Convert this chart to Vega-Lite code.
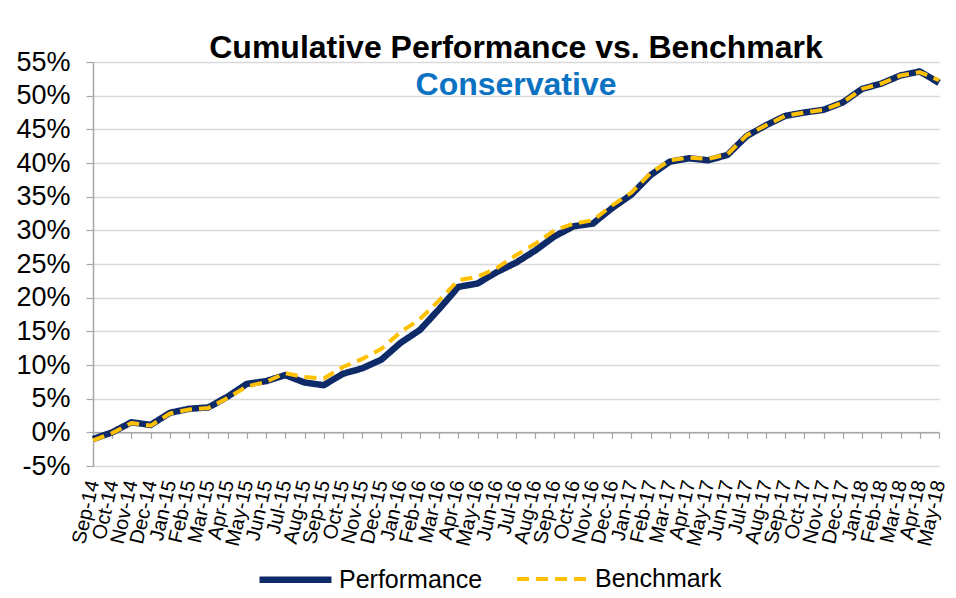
{
  "$schema": "https://vega.github.io/schema/vega-lite/v6.json",
  "autosize": {"type": "none"},
  "width": 846,
  "height": 404,
  "padding": {"left": 93, "top": 62, "right": 17, "bottom": 132},
  "background": "white",
  "config": {
    "view": {"stroke": null},
    "font": "Liberation Sans"
  },
  "title": {
    "text": "Cumulative Performance vs. Benchmark",
    "subtitle": "Conservative",
    "anchor": "middle",
    "font": "Liberation Sans",
    "fontSize": 32,
    "fontWeight": "bold",
    "color": "#000000",
    "subtitleFont": "Liberation Sans",
    "subtitleFontSize": 32,
    "subtitleFontWeight": "bold",
    "subtitleColor": "#0b72c2",
    "subtitlePadding": 5,
    "offset": -54
  },
  "data": {
    "values": [
      {"m": "Sep-14", "s": "Performance", "v": -1.0}, {"m": "Sep-14", "s": "Benchmark", "v": -1.2},
      {"m": "Oct-14", "s": "Performance", "v": 0.0}, {"m": "Oct-14", "s": "Benchmark", "v": -0.1},
      {"m": "Nov-14", "s": "Performance", "v": 1.5}, {"m": "Nov-14", "s": "Benchmark", "v": 1.4},
      {"m": "Dec-14", "s": "Performance", "v": 1.1}, {"m": "Dec-14", "s": "Benchmark", "v": 1.0},
      {"m": "Jan-15", "s": "Performance", "v": 2.9}, {"m": "Jan-15", "s": "Benchmark", "v": 2.8},
      {"m": "Feb-15", "s": "Performance", "v": 3.5}, {"m": "Feb-15", "s": "Benchmark", "v": 3.4},
      {"m": "Mar-15", "s": "Performance", "v": 3.7}, {"m": "Mar-15", "s": "Benchmark", "v": 3.6},
      {"m": "Apr-15", "s": "Performance", "v": 5.3}, {"m": "Apr-15", "s": "Benchmark", "v": 5.1},
      {"m": "May-15", "s": "Performance", "v": 7.2}, {"m": "May-15", "s": "Benchmark", "v": 6.8},
      {"m": "Jun-15", "s": "Performance", "v": 7.6}, {"m": "Jun-15", "s": "Benchmark", "v": 7.5},
      {"m": "Jul-15", "s": "Performance", "v": 8.5}, {"m": "Jul-15", "s": "Benchmark", "v": 8.8},
      {"m": "Aug-15", "s": "Performance", "v": 7.4}, {"m": "Aug-15", "s": "Benchmark", "v": 8.2},
      {"m": "Sep-15", "s": "Performance", "v": 7.0}, {"m": "Sep-15", "s": "Benchmark", "v": 8.0},
      {"m": "Oct-15", "s": "Performance", "v": 8.7}, {"m": "Oct-15", "s": "Benchmark", "v": 9.7},
      {"m": "Nov-15", "s": "Performance", "v": 9.5}, {"m": "Nov-15", "s": "Benchmark", "v": 10.9},
      {"m": "Dec-15", "s": "Performance", "v": 10.8}, {"m": "Dec-15", "s": "Benchmark", "v": 12.4},
      {"m": "Jan-16", "s": "Performance", "v": 13.3}, {"m": "Jan-16", "s": "Benchmark", "v": 14.9},
      {"m": "Feb-16", "s": "Performance", "v": 15.2}, {"m": "Feb-16", "s": "Benchmark", "v": 16.8},
      {"m": "Mar-16", "s": "Performance", "v": 18.3}, {"m": "Mar-16", "s": "Benchmark", "v": 19.6},
      {"m": "Apr-16", "s": "Performance", "v": 21.6}, {"m": "Apr-16", "s": "Benchmark", "v": 22.6},
      {"m": "May-16", "s": "Performance", "v": 22.1}, {"m": "May-16", "s": "Benchmark", "v": 23.1},
      {"m": "Jun-16", "s": "Performance", "v": 23.8}, {"m": "Jun-16", "s": "Benchmark", "v": 24.4},
      {"m": "Jul-16", "s": "Performance", "v": 25.2}, {"m": "Jul-16", "s": "Benchmark", "v": 26.3},
      {"m": "Aug-16", "s": "Performance", "v": 27.0}, {"m": "Aug-16", "s": "Benchmark", "v": 28.0},
      {"m": "Sep-16", "s": "Performance", "v": 29.1}, {"m": "Sep-16", "s": "Benchmark", "v": 30.0},
      {"m": "Oct-16", "s": "Performance", "v": 30.6}, {"m": "Oct-16", "s": "Benchmark", "v": 31.0},
      {"m": "Nov-16", "s": "Performance", "v": 31.0}, {"m": "Nov-16", "s": "Benchmark", "v": 31.5},
      {"m": "Dec-16", "s": "Performance", "v": 33.3}, {"m": "Dec-16", "s": "Benchmark", "v": 33.7},
      {"m": "Jan-17", "s": "Performance", "v": 35.3}, {"m": "Jan-17", "s": "Benchmark", "v": 35.6},
      {"m": "Feb-17", "s": "Performance", "v": 38.2}, {"m": "Feb-17", "s": "Benchmark", "v": 38.5},
      {"m": "Mar-17", "s": "Performance", "v": 40.2}, {"m": "Mar-17", "s": "Benchmark", "v": 40.4},
      {"m": "Apr-17", "s": "Performance", "v": 40.7}, {"m": "Apr-17", "s": "Benchmark", "v": 40.8},
      {"m": "May-17", "s": "Performance", "v": 40.4}, {"m": "May-17", "s": "Benchmark", "v": 40.6},
      {"m": "Jun-17", "s": "Performance", "v": 41.2}, {"m": "Jun-17", "s": "Benchmark", "v": 41.3},
      {"m": "Jul-17", "s": "Performance", "v": 44.0}, {"m": "Jul-17", "s": "Benchmark", "v": 44.1},
      {"m": "Aug-17", "s": "Performance", "v": 45.6}, {"m": "Aug-17", "s": "Benchmark", "v": 45.6},
      {"m": "Sep-17", "s": "Performance", "v": 47.0}, {"m": "Sep-17", "s": "Benchmark", "v": 47.0},
      {"m": "Oct-17", "s": "Performance", "v": 47.5}, {"m": "Oct-17", "s": "Benchmark", "v": 47.5},
      {"m": "Nov-17", "s": "Performance", "v": 47.9}, {"m": "Nov-17", "s": "Benchmark", "v": 47.9},
      {"m": "Dec-17", "s": "Performance", "v": 49.0}, {"m": "Dec-17", "s": "Benchmark", "v": 49.0},
      {"m": "Jan-18", "s": "Performance", "v": 51.0}, {"m": "Jan-18", "s": "Benchmark", "v": 51.0},
      {"m": "Feb-18", "s": "Performance", "v": 51.8}, {"m": "Feb-18", "s": "Benchmark", "v": 51.8},
      {"m": "Mar-18", "s": "Performance", "v": 53.0}, {"m": "Mar-18", "s": "Benchmark", "v": 53.0},
      {"m": "Apr-18", "s": "Performance", "v": 53.6}, {"m": "Apr-18", "s": "Benchmark", "v": 53.5},
      {"m": "May-18", "s": "Performance", "v": 51.9}, {"m": "May-18", "s": "Benchmark", "v": 52.3}
    ]
  },
  "encoding": {
    "x": {
      "field": "m",
      "type": "ordinal",
      "sort": null,
      "scale": {"type": "point", "padding": 0},
      "axis": {
        "title": null,
        "offset": -33.67,
        "domainColor": "#a6a6a6",
        "domainWidth": 1.5,
        "tickColor": "#a6a6a6",
        "tickSize": 6,
        "tickWidth": 1.2,
        "labelAngle": -77,
        "labelAlign": "right",
        "labelBaseline": "middle",
        "labelPadding": 42,
        "labelFont": "Liberation Sans",
        "labelFontSize": 20,
        "labelColor": "#000000",
        "labelOverlap": false,
        "grid": false
      }
    },
    "y": {
      "field": "v",
      "type": "quantitative",
      "scale": {"domain": [-5, 55], "nice": false, "zero": false},
      "axis": {
        "title": null,
        "values": [-5, 0, 5, 10, 15, 20, 25, 30, 35, 40, 45, 50, 55],
        "labelExpr": "datum.value + '%'",
        "domainColor": "#a6a6a6",
        "domainWidth": 1.5,
        "tickColor": "#a6a6a6",
        "tickSize": 7,
        "tickWidth": 1.2,
        "labelPadding": 16,
        "labelFont": "Liberation Sans",
        "labelFontSize": 27,
        "labelColor": "#000000",
        "grid": true,
        "gridColor": "#d9d9d9",
        "gridWidth": 1.5
      }
    },
    "color": {
      "field": "s",
      "type": "nominal",
      "scale": {"domain": ["Performance", "Benchmark"], "range": ["#0f2a68", "#ffc000"]},
      "legend": {
        "title": null,
        "orient": "none",
        "direction": "horizontal",
        "legendX": 163,
        "legendY": 478,
        "padding": 0,
        "symbolType": "stroke",
        "symbolSize": 5184,
        "labelFont": "Liberation Sans",
        "labelFontSize": 25,
        "labelColor": "#000000",
        "labelOffset": 4,
        "columnPadding": 26
      }
    },
    "strokeDash": {
      "field": "s",
      "type": "nominal",
      "scale": {"domain": ["Performance", "Benchmark"], "range": [[1, 0], [12, 7]]},
      "legend": null
    },
    "strokeWidth": {
      "field": "s",
      "type": "nominal",
      "scale": {"domain": ["Performance", "Benchmark"], "range": [6.5, 4]},
      "legend": null
    }
  },
  "layer": [
    {
      "transform": [{"filter": "datum.s === 'Performance'"}],
      "mark": {"type": "line", "strokeJoin": "round", "strokeCap": "butt"}
    },
    {
      "transform": [{"filter": "datum.s === 'Benchmark'"}],
      "mark": {"type": "line", "strokeJoin": "round", "strokeCap": "butt"}
    }
  ]
}
